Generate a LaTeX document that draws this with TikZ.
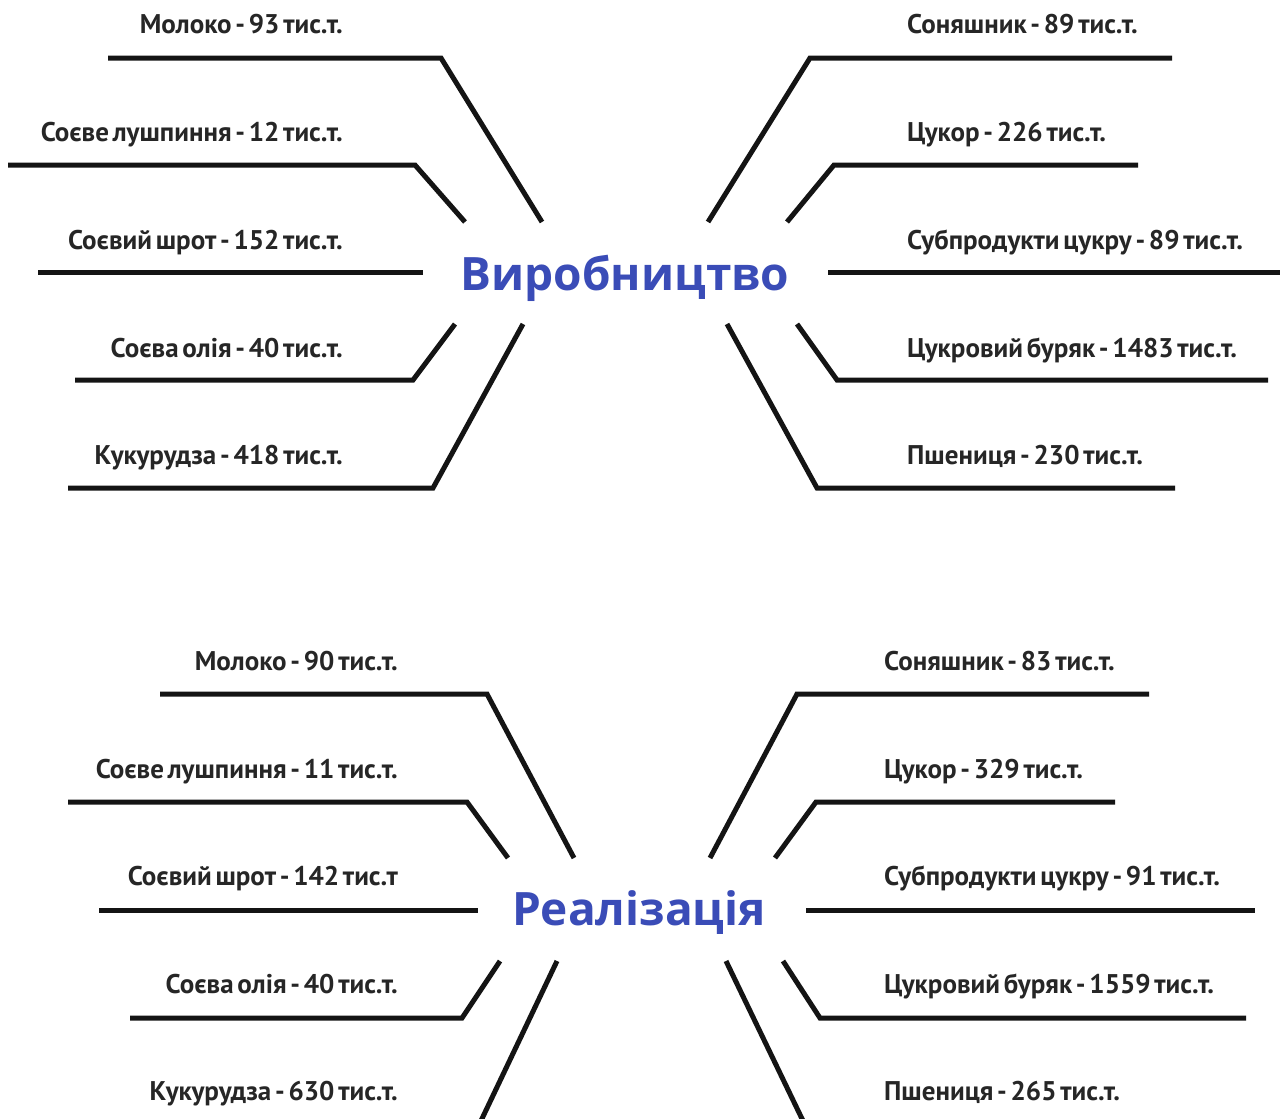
\documentclass[tikz,border=0pt]{standalone}
\usepackage{fontspec}
\setmainfont{PT Sans}[WordSpace=0.55]
\newfontfamily\titlefont{Open Sans}
\definecolor{titleblue}{RGB}{58,76,183}
\tikzset{
  ln/.style={line width=5pt, draw=black!92, line join=miter},
  lbl/.style={font=\fontsize{27}{27}\selectfont\bfseries, inner sep=0pt, text=black!85},
  lblL/.style={lbl, anchor=base east},
  lblR/.style={lbl, anchor=base west},
  ttl/.style={font=\titlefont\fontsize{46}{46}\selectfont\bfseries, text=titleblue, inner sep=0pt, anchor=base}
}
\begin{document}
\begin{tikzpicture}[x=1pt,y=-1pt]
\useasboundingbox[fill=white] (0,0) rectangle (1280,1119);
% ---------- Виробництво ----------
\node[ttl] (t1) at (625,290) {Виробництво};
\node[lblL] (a1) at (343,33) {Молоко - 93 тис.т.};
\node[lblL] (a2) at (343,141) {Соєве лушпиння - 12 тис.т.};
\node[lblL] (a3) at (343,249) {Соєвий шрот - 152 тис.т.};
\node[lblL] (a4) at (343,357) {Соєва олія - 40 тис.т.};
\node[lblL] (a5) at (343,464) {Кукурудза - 418 тис.т.};
\node[lblR] (b1) at (907,33) {Соняшник - 89 тис.т.};
\node[lblR] (b2) at (907,141) {Цукор - 226 тис.т.};
\node[lblR] (b3) at (907,249) {Субпродукти цукру - 89 тис.т.};
\node[lblR] (b4) at (907,357) {Цукровий буряк - 1483 тис.т.};
\node[lblR] (b5) at (907,464) {Пшениця - 230 тис.т.};
\draw[ln] (108,58) -- (441,58) -- (542,222);
\draw[ln] (8,165) -- (415,165) -- (465,222);
\draw[ln] (38,272) -- (423,272);
\draw[ln] (75,380) -- (413,380) -- (455,324);
\draw[ln] (68,488) -- (433,488) -- (523,324);
\draw[ln] (1172,58) -- (810,58) -- (708,222);
\draw[ln] (1138,165) -- (834,165) -- (787,222);
\draw[ln] (828,272) -- (1280,272);
\draw[ln] (1268,380) -- (837,380) -- (797,324);
\draw[ln] (1175,488) -- (817,488) -- (727,324);
% ---------- Реалізація ----------
\node[ttl] (t2) at (639,925) {Реалізація};
\node[lblL] (c1) at (398,670) {Молоко - 90 тис.т.};
\node[lblL] (c2) at (398,778) {Соєве лушпиння - 11 тис.т.};
\node[lblL] (c3) at (398,885) {Соєвий шрот - 142 тис.т};
\node[lblL] (c4) at (398,993) {Соєва олія - 40 тис.т.};
\node[lblL] (c5) at (398,1100) {Кукурудза - 630 тис.т.};
\node[lblR] (d1) at (884,670) {Соняшник - 83 тис.т.};
\node[lblR] (d2) at (884,778) {Цукор - 329 тис.т.};
\node[lblR] (d3) at (884,885) {Субпродукти цукру - 91 тис.т.};
\node[lblR] (d4) at (884,993) {Цукровий буряк - 1559 тис.т.};
\node[lblR] (d5) at (884,1100) {Пшениця - 265 тис.т.};
\draw[ln] (160,694) -- (487,694) -- (574,858);
\draw[ln] (68,802) -- (467,802) -- (508,858);
\draw[ln] (99,910) -- (478,910);
\draw[ln] (130,1018) -- (462,1018) -- (500,961);
\draw[ln] (557,961) -- (479,1125);
\draw[ln] (1149,694) -- (797,694) -- (710,858);
\draw[ln] (1115,802) -- (816,802) -- (775,858);
\draw[ln] (806,910) -- (1255,910);
\draw[ln] (1246,1018) -- (820,1018) -- (783,961);
\draw[ln] (726,961) -- (805,1125);
\end{tikzpicture}
\end{document}
